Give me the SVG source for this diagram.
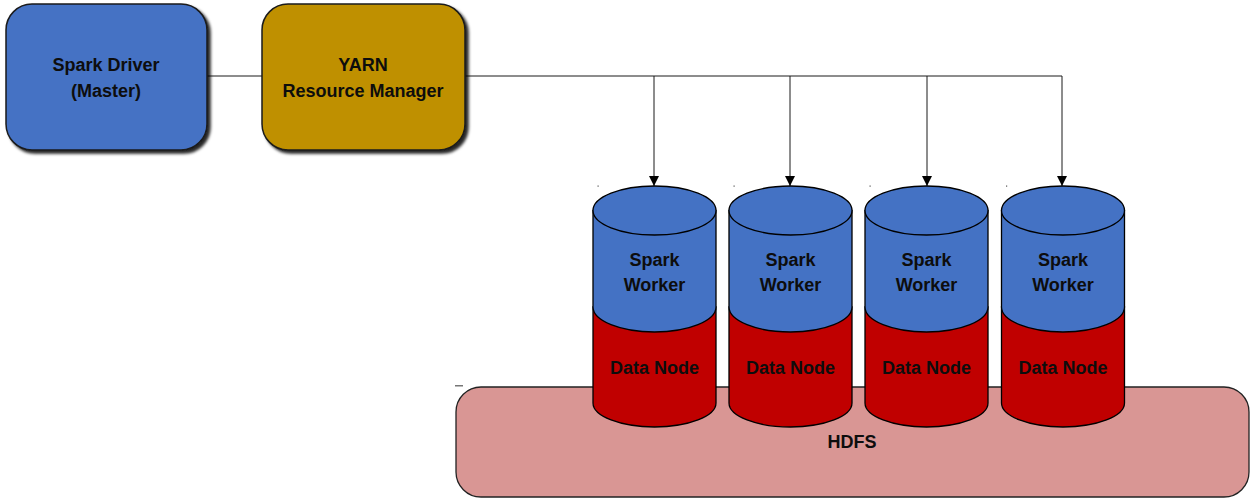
<svg xmlns="http://www.w3.org/2000/svg" width="1250" height="500" viewBox="0 0 1250 500">
  <defs>
    <filter id="shadow" x="-10%" y="-10%" width="130%" height="130%">
      <feDropShadow dx="3" dy="3" stdDeviation="1.5" flood-color="#000" flood-opacity="0.85"/>
    </filter>
    <marker id="arrow" viewBox="0 0 10 10" refX="10" refY="5" markerWidth="10" markerHeight="10" markerUnits="userSpaceOnUse" orient="auto">
      <path d="M0,0 L10,5 L0,10 Z" fill="#000"/>
    </marker>
  </defs>
  <style>
    text { font-family: "Liberation Sans", Arial, sans-serif; font-weight: bold; font-size: 18px; fill: #0d0d0d; text-anchor: middle; }
    .box { stroke: #1a1a1a; stroke-width: 1.5; }
    .cyl { stroke: #000; stroke-width: 1.3; }
    .blue { fill: #4472c4; }
    .red { fill: #c00000; }
    .link { stroke: #1a1a1a; stroke-width: 1; fill: none; }
  </style>

  <!-- HDFS base -->
  <g id="hdfs">
    <rect x="456" y="387" width="793" height="110" rx="25" fill="#d99694" stroke="#222" stroke-width="1.3"/>
    <rect x="455" y="385" width="8" height="1.5" fill="#777"/>
    <text x="852" y="448">HDFS</text>
  </g>

  <!-- connectors -->
  <g id="connectors">
    <line class="link" x1="207" y1="76" x2="262" y2="76"/>
    <line class="link" x1="465" y1="76" x2="1062" y2="76"/>
    <line class="link" x1="654" y1="76" x2="654" y2="186" marker-end="url(#arrow)"/>
    <line class="link" x1="790" y1="76" x2="790" y2="186" marker-end="url(#arrow)"/>
    <line class="link" x1="927" y1="76" x2="927" y2="186" marker-end="url(#arrow)"/>
    <line class="link" x1="1062" y1="76" x2="1062" y2="186" marker-end="url(#arrow)"/>
  </g>

  <!-- driver -->
  <g id="spark-driver">
    <rect class="box blue" x="6" y="4" width="201" height="146" rx="26" filter="url(#shadow)"/>
    <text x="106" y="71">Spark Driver</text>
    <text x="106" y="97">(Master)</text>
  </g>

  <!-- resource manager -->
  <g id="yarn-rm">
    <rect class="box" x="262" y="4" width="203" height="146" rx="26" fill="#bf9000" filter="url(#shadow)"/>
    <text x="363" y="71">YARN</text>
    <text x="363" y="97">Resource Manager</text>
  </g>

  <!-- worker / data node stacks -->
  <g id="worker-1" transform="translate(654.5,0)">
    <rect x="-57" y="185.5" width="1.2" height="1.2" fill="#555"/>
    <path class="cyl red" d="M-61.5,307 L-61.5,403 A61.5,24 0 0 0 61.5,403 L61.5,307 Z"/>
    <path class="cyl blue" d="M-61.5,210.5 L-61.5,307 A61.5,25 0 0 0 61.5,307 L61.5,210.5 Z"/>
    <ellipse class="cyl blue" cx="0" cy="210.5" rx="61.5" ry="24.5"/>
    <text x="0" y="266">Spark</text>
    <text x="0" y="291">Worker</text>
    <text x="0" y="374">Data Node</text>
  </g>
  <g id="worker-2" transform="translate(790.5,0)">
    <rect x="-57" y="185.5" width="1.2" height="1.2" fill="#555"/>
    <path class="cyl red" d="M-61.5,307 L-61.5,403 A61.5,24 0 0 0 61.5,403 L61.5,307 Z"/>
    <path class="cyl blue" d="M-61.5,210.5 L-61.5,307 A61.5,25 0 0 0 61.5,307 L61.5,210.5 Z"/>
    <ellipse class="cyl blue" cx="0" cy="210.5" rx="61.5" ry="24.5"/>
    <text x="0" y="266">Spark</text>
    <text x="0" y="291">Worker</text>
    <text x="0" y="374">Data Node</text>
  </g>
  <g id="worker-3" transform="translate(926.5,0)">
    <rect x="-57" y="185.5" width="1.2" height="1.2" fill="#555"/>
    <path class="cyl red" d="M-61.5,307 L-61.5,403 A61.5,24 0 0 0 61.5,403 L61.5,307 Z"/>
    <path class="cyl blue" d="M-61.5,210.5 L-61.5,307 A61.5,25 0 0 0 61.5,307 L61.5,210.5 Z"/>
    <ellipse class="cyl blue" cx="0" cy="210.5" rx="61.5" ry="24.5"/>
    <text x="0" y="266">Spark</text>
    <text x="0" y="291">Worker</text>
    <text x="0" y="374">Data Node</text>
  </g>
  <g id="worker-4" transform="translate(1063,0)">
    <rect x="-57" y="185.5" width="1.2" height="1.2" fill="#555"/>
    <path class="cyl red" d="M-61.5,307 L-61.5,403 A61.5,24 0 0 0 61.5,403 L61.5,307 Z"/>
    <path class="cyl blue" d="M-61.5,210.5 L-61.5,307 A61.5,25 0 0 0 61.5,307 L61.5,210.5 Z"/>
    <ellipse class="cyl blue" cx="0" cy="210.5" rx="61.5" ry="24.5"/>
    <text x="0" y="266">Spark</text>
    <text x="0" y="291">Worker</text>
    <text x="0" y="374">Data Node</text>
  </g>
</svg>
